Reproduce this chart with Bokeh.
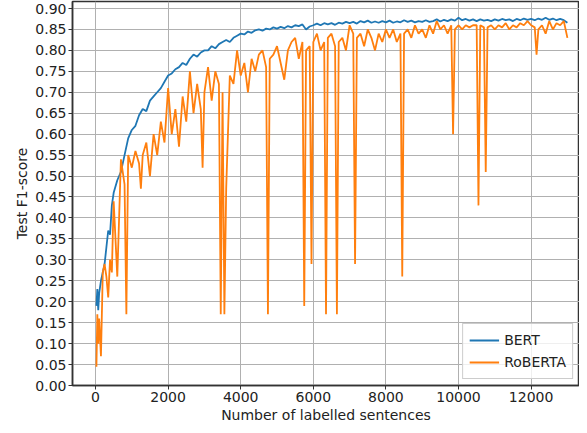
from bokeh.plotting import figure
from bokeh.models import FixedTicker, NumeralTickFormatter, Range1d
from bokeh.embed import file_html
from bokeh.resources import INLINE

# x positions (number of labelled sentences)
sentences_early = [25, 50, 75, 100, 150, 200, 250, 300, 350, 400, 450]
sentences_late = list(range(500, 13001, 100))
sentences = sentences_early + sentences_late

bert = [
    0.19, 0.23, 0.18, 0.22, 0.25, 0.27, 0.29, 0.33, 0.37, 0.36, 0.43,
    # 500 .. 1400
    0.46, 0.49, 0.51, 0.55, 0.59, 0.61, 0.62, 0.645, 0.66, 0.655,
    # 1500 .. 2400
    0.68, 0.69, 0.70, 0.71, 0.725, 0.74, 0.745, 0.755, 0.76, 0.77,
    # 2500 .. 3400
    0.765, 0.78, 0.79, 0.785, 0.795, 0.80, 0.80, 0.81, 0.805, 0.815,
    # 3500 .. 4400
    0.82, 0.825, 0.82, 0.83, 0.835, 0.84, 0.838, 0.845, 0.842, 0.848,
    # 4500 .. 5400
    0.85, 0.847, 0.852, 0.85, 0.855, 0.852, 0.856, 0.853, 0.858, 0.855,
    # 5500 .. 6400
    0.86, 0.858, 0.862, 0.85, 0.857, 0.86, 0.864, 0.86, 0.865, 0.862,
    # 6500 .. 7400
    0.865, 0.861, 0.866, 0.864, 0.868, 0.865, 0.868, 0.864, 0.87, 0.867,
    # 7500 .. 8400
    0.871, 0.866, 0.869, 0.866, 0.87, 0.867, 0.871, 0.866, 0.869, 0.867,
    # 8500 .. 9400
    0.872, 0.868, 0.871, 0.867, 0.87, 0.868, 0.872, 0.868, 0.87, 0.874,
    # 9500 .. 10400
    0.869, 0.873, 0.87, 0.874, 0.871, 0.878, 0.872, 0.875, 0.871, 0.874,
    # 10500 .. 11400
    0.87, 0.874, 0.871, 0.873, 0.87, 0.874, 0.871, 0.875, 0.872, 0.874,
    # 11500 .. 12400
    0.87, 0.875, 0.872, 0.876, 0.873, 0.875, 0.872, 0.876, 0.873, 0.878,
    # 12500 .. 13000
    0.873, 0.876, 0.872, 0.875, 0.872, 0.866,
]

# RoBERTa values at the same sampled positions (between the sharp drops)
roberta_base = [
    0.045, 0.17, 0.10, 0.16, 0.07, 0.27, 0.29, 0.26, 0.21, 0.30, 0.27,
    # 500 .. 1400
    0.44, 0.26, 0.54, 0.48, 0.55, 0.52, 0.56, 0.53, 0.55, 0.58,
    # 1500 .. 2400
    0.50, 0.60, 0.55, 0.63, 0.58, 0.71, 0.60, 0.66, 0.57, 0.69,
    # 2500 .. 3400
    0.63, 0.75, 0.65, 0.72, 0.66, 0.70, 0.76, 0.68, 0.75, 0.72,
    # 3500 .. 4400
    0.70, 0.47, 0.74, 0.72, 0.80, 0.74, 0.77, 0.70, 0.78, 0.75,
    # 4500 .. 5400
    0.79, 0.80, 0.76, 0.78, 0.79, 0.81, 0.77, 0.73, 0.80, 0.82,
    # 5500 .. 6400
    0.83, 0.78, 0.82, 0.80, 0.81, 0.82, 0.84, 0.80, 0.82, 0.83,
    # 6500 .. 7400
    0.84, 0.81, 0.82, 0.83, 0.80, 0.86, 0.84, 0.83, 0.84, 0.81,
    # 7500 .. 8400
    0.85, 0.83, 0.80, 0.84, 0.82, 0.85, 0.83, 0.85, 0.82, 0.84,
    # 8500 .. 9400
    0.84, 0.85, 0.83, 0.86, 0.84, 0.85, 0.83, 0.86, 0.84, 0.87,
    # 9500 .. 10400
    0.85, 0.86, 0.84, 0.86, 0.85, 0.86, 0.85, 0.86, 0.855, 0.86,
    # 10500 .. 11400
    0.86, 0.86, 0.855, 0.855, 0.86, 0.85, 0.86, 0.855, 0.865, 0.85,
    # 11500 .. 12400
    0.86, 0.855, 0.865, 0.86, 0.87, 0.86, 0.855, 0.85, 0.86, 0.84,
    # 12500 .. 13000
    0.87, 0.85, 0.865, 0.86, 0.87, 0.83,
]

# RoBERTa sharp drops (collapsed runs)
roberta_drop_x = [850, 1250, 2950, 3450, 3550, 4750, 5750, 5950, 6350, 6650,
                  7150, 8450, 9850, 10550, 10750, 12150]
roberta_drop_y = [0.17, 0.47, 0.52, 0.17, 0.17, 0.17, 0.19, 0.29, 0.17, 0.17,
                  0.29, 0.26, 0.60, 0.43, 0.51, 0.79]

rob_pairs = sorted(list(zip(sentences, roberta_base)) +
                   list(zip(roberta_drop_x, roberta_drop_y)))
roberta_x = [a for a, _ in rob_pairs]
roberta = [b for _, b in rob_pairs]

y_ticks = [round(i * 0.05, 2) for i in range(19)]
x_ticks = [0, 2000, 4000, 6000, 8000, 10000, 12000]

FONT = "DejaVu Sans"

p = figure(width=579, height=425, output_backend="svg", toolbar_location=None,
           x_range=Range1d(-634, 13333), y_range=Range1d(0, 0.9167),
           min_border_left=72, min_border_right=0, min_border_top=1,
           min_border_bottom=40)

p.line(sentences, bert, line_color="#1f77b4", line_width=1.8, legend_label="BERT")
p.line(roberta_x, roberta, line_color="#ff7f0e", line_width=1.8, legend_label="RoBERTA")

p.xaxis.ticker = FixedTicker(ticks=x_ticks)
p.yaxis.ticker = FixedTicker(ticks=y_ticks)
p.yaxis.formatter = NumeralTickFormatter(format="0.00")
p.xaxis.formatter = NumeralTickFormatter(format="0")
p.xaxis.axis_label = "Number of labelled sentences"
p.yaxis.axis_label = "Test F1-score"

for ax in (p.xaxis, p.yaxis):
    ax.axis_label_text_font = FONT
    ax.axis_label_text_font_style = "normal"
    ax.axis_label_text_font_size = "14px"
    ax.axis_label_text_color = "#222222"
    ax.major_label_text_font = FONT
    ax.major_label_text_font_size = "14px"
    ax.major_label_text_color = "#222222"
    ax.axis_line_color = "#333333"
    ax.axis_line_width = 1.5
    ax.major_tick_line_color = "#333333"
    ax.major_tick_in = 0
    ax.major_tick_out = 4
    ax.minor_tick_line_color = None
    ax.axis_label_standoff = 2
    ax.major_label_standoff = 2

p.xgrid.grid_line_color = "#b0b0b0"
p.ygrid.grid_line_color = "#b0b0b0"
p.xgrid.grid_line_width = 1
p.ygrid.grid_line_width = 1
p.outline_line_color = "#333333"
p.outline_line_width = 1.5
p.background_fill_color = "white"
p.border_fill_color = "white"

p.legend.location = "bottom_right"
p.legend.label_text_font = FONT
p.legend.label_text_font_size = "14px"
p.legend.label_text_color = "#222222"
p.legend.border_line_color = "#cccccc"
p.legend.border_line_alpha = 1
p.legend.background_fill_alpha = 0.8
p.legend.glyph_width = 30
p.legend.spacing = 2
p.legend.padding = 6
p.legend.margin = 6

open("out.html", "w").write(file_html(p, INLINE))
